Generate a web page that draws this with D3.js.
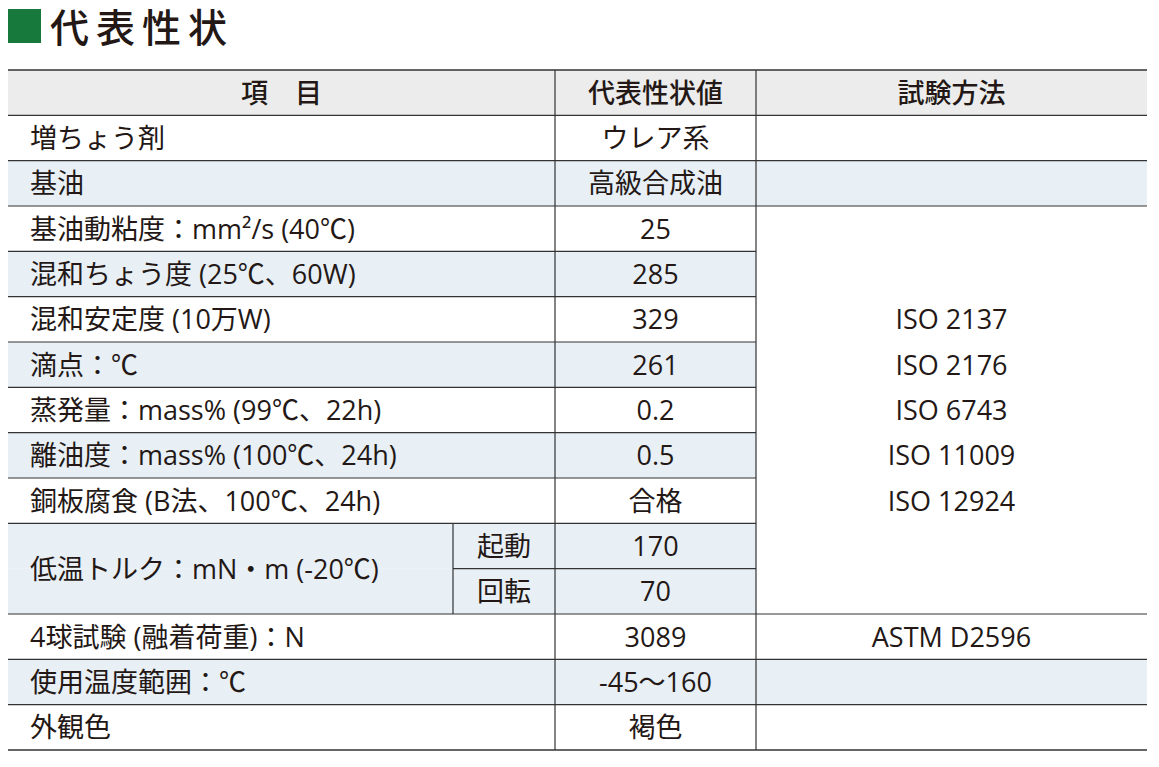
<!DOCTYPE html><html><head><meta charset="utf-8">
<script src="https://cdn.jsdelivr.net/npm/d3@7"></script>
<style>body{margin:0;background:#fff}svg{font-family:"Open Sans","Noto Sans CJK JP",sans-serif}</style></head><body>
<svg id="c" width="1159" height="767"></svg>
<script>
const title="代表性状";
const headers=["項　目","代表性状値","試験方法"];
const items=["増ちょう剤","基油","基油動粘度：mm²/s (40℃)","混和ちょう度 (25℃、60W)","混和安定度 (10万W)","滴点：℃","蒸発量：mass% (99℃、22h)","離油度：mass% (100℃、24h)","銅板腐食 (B法、100℃、24h)","起動","回転","4球試験 (融着荷重)：N","使用温度範囲：℃","外観色"];
const values=["ウレア系","高級合成油","25","285","329","261","0.2","0.5","合格","170","70","3089","-45～160","褐色"];
const methods=["","","","","ISO 2137","ISO 2176","ISO 6743","ISO 11009","ISO 12924","","","ASTM D2596","",""];
const shaded=[0,1,0,1,0,1,0,1,0,1,1,0,1,0];
const mergedLabel="低温トルク：mN・m (-20℃)";

const svg=d3.select("#c");
const blue="#e8eff5",line="#333",txt="#231815",fs=27;
const x0=8,x1=555,x2=756,x3=1147,xs=453;
const y=d3.scaleBand().domain(d3.range(-1,items.length)).range([70,750]);
const h=y.bandwidth();
svg.append("rect").attr("x",8).attr("y",9).attr("width",33).attr("height",34).attr("fill","#177a3c");
svg.append("text").attr("x",50).attr("y",42).attr("font-size",39).attr("letter-spacing",7).attr("fill",txt).attr("font-family","Noto Sans CJK JP").attr("font-weight",500).text(title);
svg.append("rect").attr("x",x0).attr("y",y(-1)).attr("width",x3-x0).attr("height",h).attr("fill","#ececec");
[[x0,x1],[x1,x2],[x2,x3]].forEach((c,i)=>svg.append("text").attr("x",(c[0]+c[1])/2).attr("y",y(-1)+h/2+10).attr("text-anchor","middle").attr("font-size",fs).attr("font-family","Noto Sans CJK JP").attr("font-weight",500).attr("fill",txt).text(headers[i]));
items.forEach((d,i)=>{
  const yy=y(i);
  if(shaded[i]) svg.append("rect").attr("x",x0).attr("y",yy).attr("width",x2-x0).attr("height",h).attr("fill",blue);
  if(shaded[i] && (i<2||i>10)) svg.append("rect").attr("x",x2).attr("y",yy).attr("width",x3-x2).attr("height",h).attr("fill",blue);
  const isSub=(i===9||i===10);
  svg.append("text").attr("x",isSub?(xs+x1)/2:30).attr("y",yy+h/2+10).attr("text-anchor",isSub?"middle":"start").attr("font-size",fs).attr("fill",txt).text(d);
  svg.append("text").attr("x",(x1+x2)/2).attr("y",yy+h/2+10).attr("text-anchor","middle").attr("font-size",fs).attr("fill",txt).text(values[i]);
  if(methods[i]) svg.append("text").attr("x",(x2+x3)/2).attr("y",yy+h/2+10).attr("text-anchor","middle").attr("font-size",fs).attr("fill",txt).text(methods[i]);
});
svg.append("text").attr("x",30).attr("y",y(10)+10).attr("font-size",fs).attr("fill",txt).text(mergedLabel);
const L=(a,b,c,d,w)=>svg.append("line").attr("x1",a).attr("y1",b).attr("x2",c).attr("y2",d).attr("stroke",line).attr("stroke-width",w||1.2);
L(x0,y(-1),x3,y(-1),1.5);L(x0,750,x3,750,1.5);
d3.range(0,items.length).forEach(i=>{
  const yy=y(i);
  if(i===10) L(xs,yy,x2,yy);
  else if(i>=3&&i<=9) L(x0,yy,x2,yy);
  else L(x0,yy,x3,yy);
});
L(x1,y(-1),x1,750);L(x2,y(-1),x2,750);L(xs,y(9),xs,y(11));
</script></body></html>
